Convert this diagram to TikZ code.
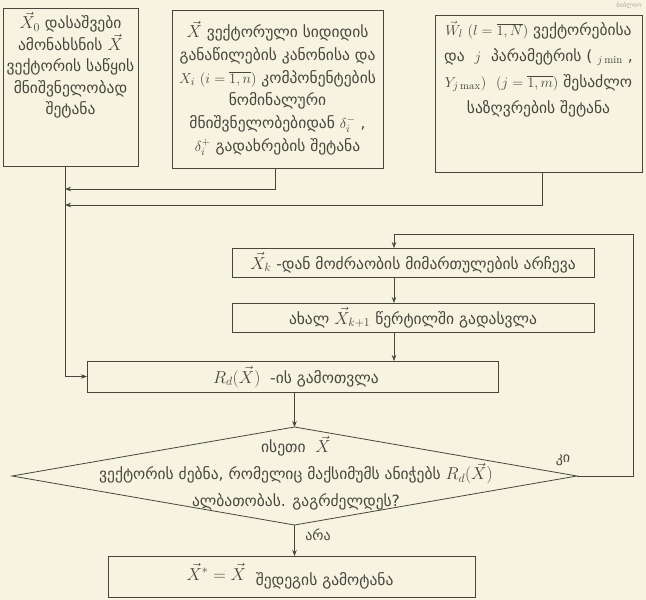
\documentclass[tikz,border=0pt]{standalone}
\usepackage{fontspec}
\newfontfamily\geo{DejaVu Sans}
\usetikzlibrary{arrows.meta,shapes.geometric}
\definecolor{paper}{RGB}{246,243,224}
\definecolor{ink}{RGB}{70,70,62}
\newcommand\mth[1]{{\fontsize{17.28}{20}\selectfont$#1$}}
\begin{document}
\begin{tikzpicture}[x=1pt,y=-1pt,
  box/.style={draw=ink, line width=0.8pt, inner sep=0pt, outer sep=0pt},
  txt/.style={font=\geo\fontsize{15.5}{21.5}\selectfont, text=ink, align=center, inner sep=0pt},
  arr/.style={draw=ink, line width=0.7pt, -{Stealth[length=6pt,width=4.5pt]}},
  lbl/.style={font=\geo\fontsize{14}{16}\selectfont, text=ink, inner sep=0pt}]
\fill[paper] (0,0) rectangle (646,600);
\useasboundingbox (0,0) rectangle (646,600);

% stamp
\node[font=\geo\fontsize{6.5}{8}\selectfont, text=ink!45, anchor=north east, inner sep=0pt] (stamp) at (642,2) {ბიბლიო};

% top boxes
\node[box, minimum width=135pt, minimum height=158pt] (b1) at (70.5,87) {};
\node[txt, anchor=north] (t1) at (70.5,12) {\mth{\vec X_0} დასაშვები\\ამონახსნის \mth{\vec X}\\ვექტორის საწყის\\მნიშვნელობად\\შეტანა};

\node[box, minimum width=211pt, minimum height=158pt] (b2) at (277.5,89) {};
\node[txt, font=\geo\fontsize{15.5}{22.8}\selectfont] (t2) at (277.5,88) {\mth{\vec X} ვექტორული სიდიდის\\განაწილების კანონისა და\\$X_i\ (i=\overline{1,n})$ კომპონენტების\\ნომინალური\\მნიშვნელობებიდან $\delta_i^-$ ,\\$\delta_i^+$ გადახრების შეტანა};

\node[box, minimum width=207pt, minimum height=157pt] (b3) at (538.5,93.5) {};
\node[txt, anchor=north, font=\geo\fontsize{15.5}{26}\selectfont] (t3) at (538.5,21) {$\vec W_l\ (l=\overline{1,N})$ ვექტორებისა\\და \ $j$ \ პარამეტრის ( ${}_{j\min}$ ,\\$Y_{j\max})\ \ (j=\overline{1,m})$ შესაძლო\\საზღვრების შეტანა};

% middle boxes
\node[box, minimum width=362pt, minimum height=29pt] (b4) at (413,262.5) {};
\node[txt] (t4) at (b4) {\mth{\vec X_k} -დან მოძრაობის მიმართულების არჩევა};

\node[box, minimum width=362pt, minimum height=29pt] (b5) at (413,317.5) {};
\node[txt] (t5) at (b5) {ახალ \mth{\vec X_{k+1}} წერტილში გადასვლა};

\node[box, minimum width=411pt, minimum height=31pt] (b6) at (292.5,376.5) {};
\node[txt] (t6) at (296,377) {\mth{R_d(\vec X)} \ -ის გამოთვლა};

% decision
\node[box, shape=diamond, minimum width=565pt, minimum height=98pt] (d) at (294.5,476) {};
\node[txt, font=\geo\fontsize{15.5}{27}\selectfont] (td) at (296,473) {ისეთი \ \mth{\vec X}\hspace{58pt}\\ვექტორის ძებნა, რომელიც მაქსიმუმს ანიჭებს \mth{R_d(\vec X)}\\ალბათობას. გაგრძელდეს?};

% output
\node[box, minimum width=367pt, minimum height=41pt] (b7) at (291.5,576.5) {};
\node[txt] (t7) at (290,576) {\raisebox{5pt}{\mth{\vec X^{*}=\vec X}}\ \ შედეგის გამოტანა};

% labels
\node[lbl] (yes) at (563,460) {კი};
\node[lbl] (no) at (318,535) {არა};

% helper coordinates
\coordinate (m1) at (65,189);
\coordinate (m2) at (65,205);
\coordinate (x2) at (275,0);
\coordinate (x3) at (542,0);
\coordinate (xv) at (394,0);
\coordinate (c1) at (633,234);

% connectors
\draw[arr] (b1.south -| m1) |- (b6.west);
\draw[arr] (b2.south -| x2) |- (m1);
\draw[arr] (b3.south -| x3) |- (m2);
\draw[arr] (d.east) -| (c1) -| (b4.north -| xv);
\draw[arr] (b4.south -| xv) -- (b5.north -| xv);
\draw[arr] (b5.south -| xv) -- (b6.north -| xv);
\draw[arr] (b6.south -| d.north) -- (d.north);
\draw[arr] (d.south) -- (b7.north -| d.south);
\end{tikzpicture}
\end{document}
